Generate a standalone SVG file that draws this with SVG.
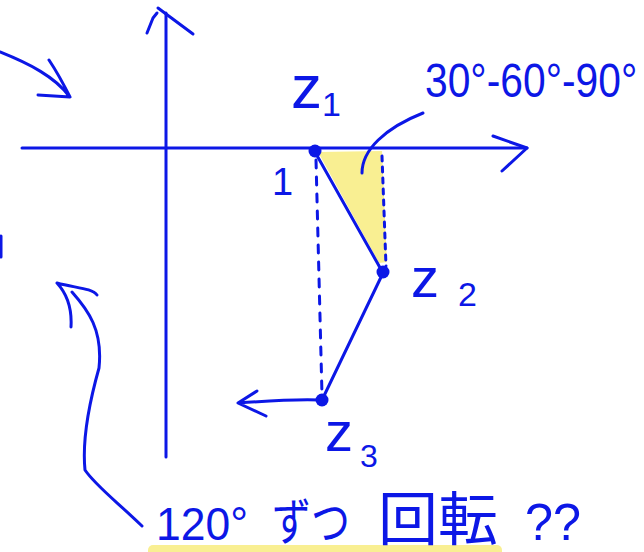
<svg xmlns="http://www.w3.org/2000/svg" width="644" height="552" viewBox="0 0 644 552">
<style>
.s{fill:none;stroke:#0c17e6;stroke-width:3;stroke-linecap:round;stroke-linejoin:round}
.d{fill:none;stroke:#0c17e6;stroke-width:3;stroke-linecap:round;stroke-dasharray:8 9}
.d2{fill:none;stroke:#0c17e6;stroke-width:3;stroke-linecap:round;stroke-dasharray:5 6}
.t{fill:#0c17e6;font-family:"Liberation Sans","Noto Sans CJK JP",sans-serif}
.dot{fill:#0c17e6}
.hl{fill:#f9ef92}
</style>
<rect width="644" height="552" fill="#ffffff"/>
<g id="highlights">
<polygon class="hl" points="318,152 382,151 387,262 379,263"/>
<rect class="hl" x="148" y="545" width="354" height="12" rx="5"/>
</g>
<g id="axes">
<path class="s" d="M166,13 V457"/>
<path class="s" d="M147,33 L153,18 L157,13 M158,8 L193,34"/>
<path class="s" d="M22,148 H527"/>
<path class="s" d="M493,136 L527,148 L502,171"/>
</g>
<g id="connectors">
<path class="s" d="M315,152 L383,273"/>
<path class="s" d="M383,273 L322,400"/>
<path class="d" d="M316,160 L322,395"/>
<path class="d2" d="M382,156 L386,266"/>
<path class="s" d="M362,173 C362,150 385,128 423,113"/>
<path class="s" d="M320,400 C295,399 265,401 238,403 M257,391 L238,403 L266,416"/>
<path class="s" d="M0,52 C30,64 55,77 69,96 M49,60 C57,72 64,85 70,97 L38,95"/>
<path class="s" d="M142,526 C115,500 95,485 85,470 C82,440 90,400 99,368 C103,330 88,310 72,292 M57,283 C68,295 72,310 71,327 M57,283 C75,288 92,288 97,295"/>
<path class="s" d="M1,236 L1,257"/>
</g>
<g id="z1">
<circle class="dot" cx="315" cy="151" r="6.5"/>
<text class="t" x="291" y="108" font-size="62">z<tspan font-size="34" dy="8">1</tspan></text>
<text class="t" x="272" y="195" font-size="38">1</text>
</g>
<g id="z2">
<circle class="dot" cx="383" cy="272" r="6.5"/>
<text class="t" x="411" y="297" font-size="56">z</text>
<text class="t" x="458" y="306" font-size="34">2</text>
</g>
<g id="z3">
<circle class="dot" cx="322" cy="400" r="6.5"/>
<text class="t" x="325" y="451" font-size="56">z</text>
<text class="t" x="360" y="467" font-size="32">3</text>
</g>
<g id="label-angles">
<text class="t" x="0" y="0" font-size="40" transform="translate(425,97) scale(1.02,1.2)">30°-60°-90°</text>
</g>
<g id="label-rotation">
<text class="t" y="540" font-size="46"><tspan x="156" textLength="92" lengthAdjust="spacingAndGlyphs">120°</tspan><tspan x="272" font-size="50" textLength="78" lengthAdjust="spacingAndGlyphs">ずつ</tspan><tspan x="378" font-size="58" textLength="120" lengthAdjust="spacingAndGlyphs">回転</tspan><tspan x="525" font-size="52" textLength="56" lengthAdjust="spacingAndGlyphs">??</tspan></text>
</g>
</svg>
